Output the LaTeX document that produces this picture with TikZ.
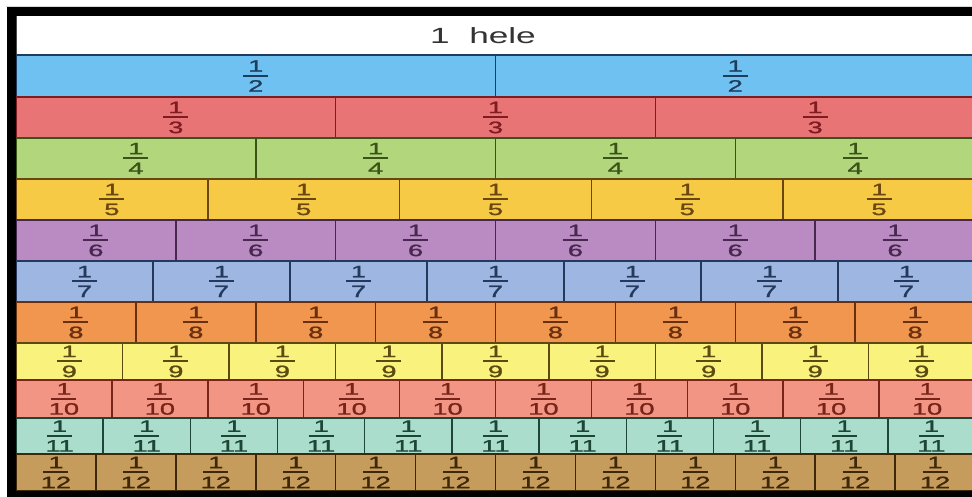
\documentclass[tikz,border=0pt]{standalone}
\usepackage{fontspec}
\setmainfont{Liberation Sans}
\newfontfamily\fracfont[FakeBold=1.2]{Liberation Sans}
\usepackage{graphicx}
\definecolor{f2}{HTML}{6EC1F0}\definecolor{d2}{HTML}{1E3C5C}
\definecolor{f3}{HTML}{E97476}\definecolor{d3}{HTML}{7E1C22}
\definecolor{f4}{HTML}{B2D67C}\definecolor{d4}{HTML}{3A5418}
\definecolor{f5}{HTML}{F6CA45}\definecolor{d5}{HTML}{6A4610}
\definecolor{f6}{HTML}{B98BC2}\definecolor{d6}{HTML}{48284F}
\definecolor{f7}{HTML}{9DB7E2}\definecolor{d7}{HTML}{24395C}
\definecolor{f8}{HTML}{F0964F}\definecolor{d8}{HTML}{68300E}
\definecolor{f9}{HTML}{F9F27C}\definecolor{d9}{HTML}{5C4A12}
\definecolor{f10}{HTML}{F29585}\definecolor{d10}{HTML}{782418}
\definecolor{f11}{HTML}{AADDCB}\definecolor{d11}{HTML}{1E4636}
\definecolor{f12}{HTML}{C59C5C}\definecolor{d12}{HTML}{3E280A}
\definecolor{hele}{HTML}{333333}
\newcommand\digs[1]{\scalebox{1.65}[1]{#1}}
\newcommand\myfr[1]{\vbox{\offinterlineskip\halign{\hfil##\hfil\cr\digs{1}\cr\noalign{\kern3pt}\rule{25pt}{2pt}\cr\noalign{\kern3.5pt}\digs{#1}\cr}}}
\tikzset{
  cellbox/.style={line width=1.5pt},
  fraclabel/.style={inner sep=0pt, font=\fracfont\fontsize{16.5}{18}\selectfont},
  band/.style={fill=black}
}
\begin{document}
\begin{tikzpicture}[x=1pt,y=-1pt]
\useasboundingbox (0,0) rectangle (972,497);
\fill[white] (0,0) rectangle (972,497);
\begin{scope}
\clip (16,16) rectangle (972,491);
\path[fill=white, draw=black!70, line width=1.4pt] (16,10) rectangle (980,55);
\node[text=hele, font=\fontsize{22}{24}\selectfont, inner sep=0pt] (whole) at (483,36) {\scalebox{1.6}[1]{1\ \ hele}};
\foreach \n/\t/\b in {2/55/97, 3/97/138, 4/138/179, 5/179/220, 6/220/261, 7/261/302, 8/302/343, 9/343/380, 10/380/418, 11/418/454, 12/454/491} {
  \pgfmathsetmacro\cw{959/\n}
  \foreach \i in {1,...,\n} {
    \path[cellbox, fill=f\n, draw=d\n] ({16+(\i-1)*\cw},\t) rectangle ({16+\i*\cw},\b);
    \node[fraclabel, text=d\n] (c\n-\i) at ({16+(\i-0.5)*\cw},{(\t+\b)/2}) {\myfr{\n}};
  }
}
\end{scope}
\fill[gray!30] (6,6.5) rectangle (972,7.5);
\fill[band] (7,7.5) rectangle (972,16);
\fill[band] (7,7.5) rectangle (16,497);
\fill[band] (7,491) rectangle (972,497);
\end{tikzpicture}
\end{document}
